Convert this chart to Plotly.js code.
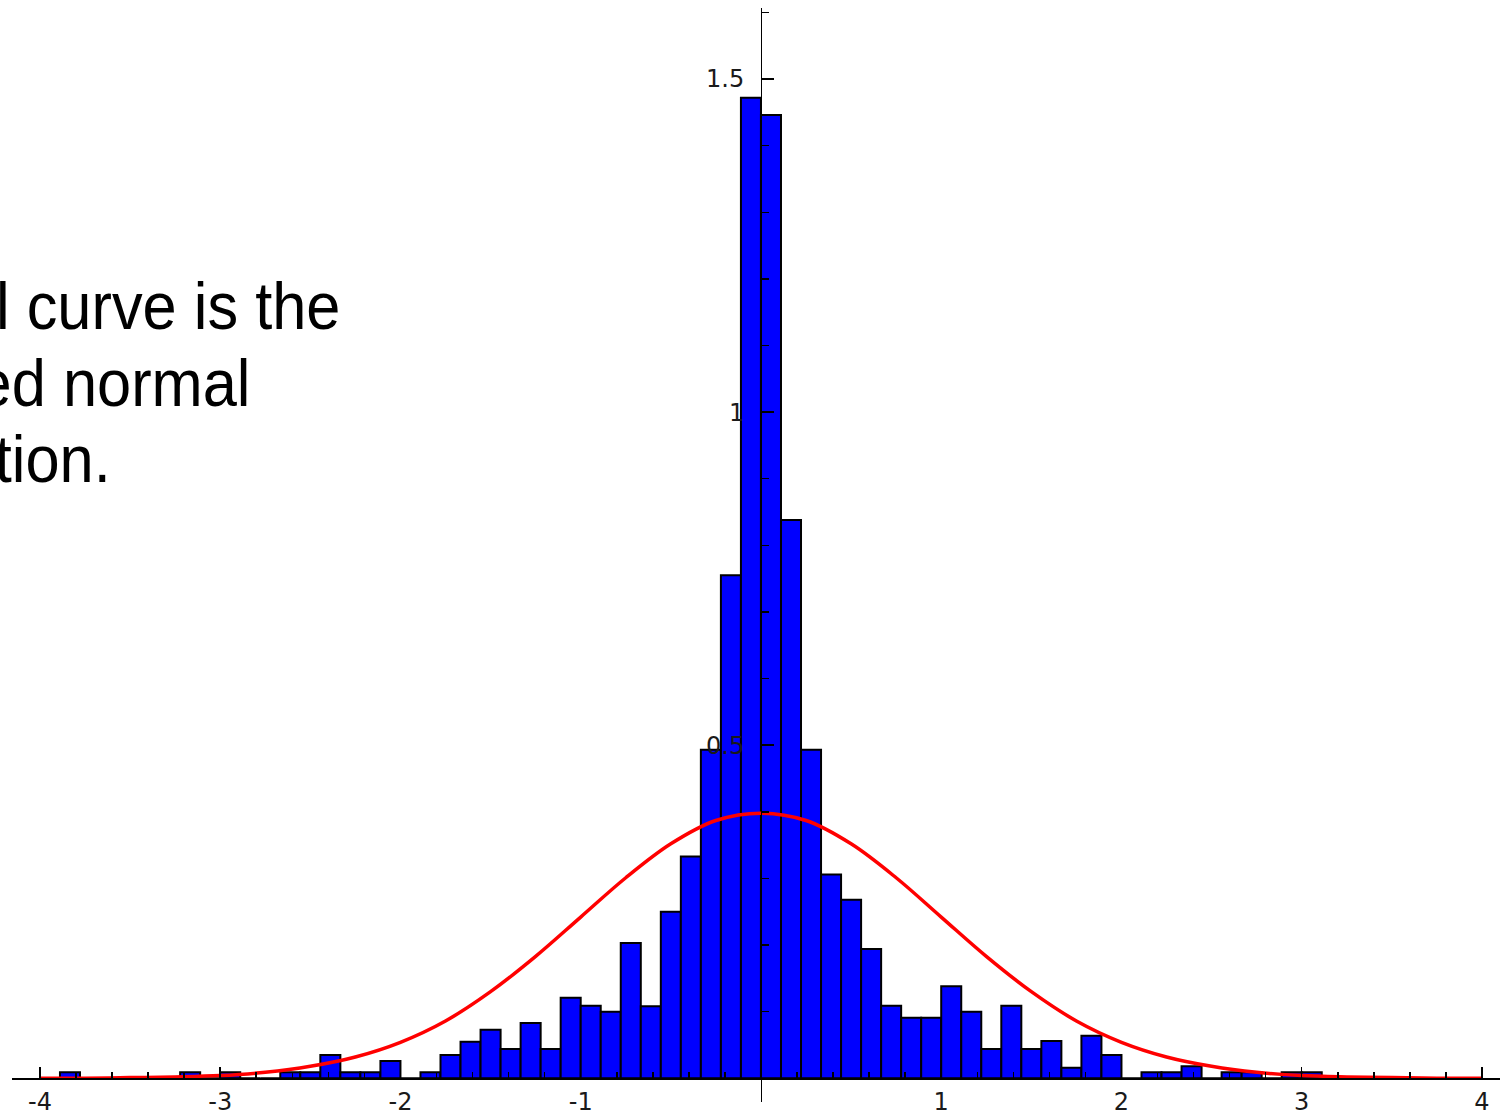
<!DOCTYPE html>
<html>
<head>
<meta charset="utf-8">
<script src="https://cdn.plot.ly/plotly-3.0.1.min.js"></script>
<style>
  html, body { margin: 0; padding: 0; background: #ffffff; }
  #chart { width: 1501px; height: 1113px; }
</style>
</head>
<body>
<div id="chart"></div>
<script>
// Histogram of standardized values (density scale) with the fitted normal curve.

// Bins: 72 bins of width 1/9 covering [-4, 4)
const binStart = -4;
const binWidth = 1 / 9;
const binDensity = [
  0.000, 0.009, 0.000, 0.000, 0.000, 0.000, 0.000, 0.009, 0.000, 0.009,
  0.000, 0.000, 0.009, 0.009, 0.035, 0.009, 0.009, 0.026, 0.000, 0.009,
  0.035, 0.055, 0.073, 0.044, 0.083, 0.044, 0.121, 0.109, 0.100, 0.203,
  0.108, 0.250, 0.333, 0.493, 0.755, 1.472, 1.446, 0.838, 0.493, 0.306,
  0.268, 0.194, 0.109, 0.091, 0.091, 0.138, 0.100, 0.044, 0.109, 0.044,
  0.056, 0.016, 0.064, 0.035, 0.000, 0.009, 0.009, 0.018, 0.000, 0.009,
  0.009, 0.000, 0.009, 0.009, 0.000, 0.000, 0.000, 0.000, 0.000, 0.000,
  0.000, 0.000
];

// Fitted normal density, read at steps of 0.25
const curveX = [
  -4, -3.75, -3.5, -3.25, -3, -2.75, -2.5, -2.25, -2, -1.75, -1.5, -1.25, -1,
  -0.75, -0.5, -0.25, 0, 0.25, 0.5, 0.75, 1, 1.25, 1.5, 1.75, 2, 2.25, 2.5,
  2.75, 3, 3.25, 3.5, 3.75, 4
];
const curveY = [
  0.000, 0.000, 0.001, 0.002, 0.004, 0.009, 0.018, 0.032, 0.054, 0.086, 0.130,
  0.183, 0.242, 0.301, 0.352, 0.387, 0.398, 0.387, 0.352, 0.301, 0.242, 0.183,
  0.130, 0.086, 0.054, 0.032, 0.018, 0.009, 0.004, 0.002, 0.001, 0.000, 0.000
];

// Axis ticks
const xTickVals = [-4, -3, -2, -1, 0, 1, 2, 3, 4];
const xTickText = ['-4', '-3', '-2', '-1', '', '1', '2', '3', '4'];
const yTickVals = [0, 0.5, 1, 1.5];
const yTickText = ['', '0.5', '1', '1.5'];

// Caption text lines
const captionLines = ['l curve is the', 'ed normal', 'tion.'];

const binCenters = binDensity.map((_, i) => binStart + (i + 0.5) * binWidth);

const W = 1501, H = 1113;
const M = { l: 12, r: 1, t: 8, b: 11 };
const plotW = W - M.l - M.r;
const plotH = H - M.t - M.b;
const xRange = [-4.155, 4.1];
const yRange = [-0.0356, 1.6066];

// Axes cross at the origin
const xAxisPos = (0 - yRange[0]) / (yRange[1] - yRange[0]);
const yAxisPos = (0 - xRange[0]) / (xRange[1] - xRange[0]);

const tickFont = { family: 'DejaVu Sans, sans-serif', size: 24, color: '#1a1a1a' };

const bars = {
  type: 'bar',
  x: binCenters,
  y: binDensity,
  width: binWidth,
  marker: { color: '#0000ff', line: { color: '#000000', width: 2 } },
  hoverinfo: 'skip'
};

const curve = {
  type: 'scatter',
  mode: 'lines',
  x: curveX,
  y: curveY,
  line: { color: '#ff0000', width: 3.5, shape: 'spline', smoothing: 1 },
  hoverinfo: 'skip'
};

// Caption placement in pixels: right edge and vertical centre of each line
const capFont = 66;
const capRight = [341, 252, 112];
const capMid = [305.6, 383.1, 459.1];
const annotations = captionLines.map((txt, i) => ({
  text: txt,
  xref: 'paper', yref: 'paper',
  x: (capRight[i] - M.l) / plotW,
  y: 1 - (capMid[i] - M.t) / plotH,
  xanchor: 'right', yanchor: 'middle',
  showarrow: false,
  borderpad: 0,
  align: 'right',
  font: { family: 'Liberation Sans, Arial, sans-serif', size: capFont, color: '#000000' }
}));

const layout = {
  width: W, height: H,
  margin: M,
  paper_bgcolor: '#ffffff',
  plot_bgcolor: '#ffffff',
  showlegend: false,
  bargap: 0,
  xaxis: {
    range: xRange,
    anchor: 'free', position: xAxisPos,
    showgrid: false, zeroline: false,
    showline: true, linecolor: '#000000', linewidth: 1.5,
    tickmode: 'array', tickvals: xTickVals, ticktext: xTickText,
    ticks: 'inside', ticklen: 11, tickwidth: 1.5, tickcolor: '#000000',
    minor: { ticks: 'inside', ticklen: 6, tickwidth: 1.5, tickcolor: '#000000', tick0: 0, dtick: 0.2, showgrid: false },
    tickfont: tickFont,
    ticklabelstandoff: 1,
    automargin: false,
    fixedrange: true
  },
  yaxis: {
    range: yRange,
    anchor: 'free', position: yAxisPos,
    showgrid: false, zeroline: false,
    showline: true, linecolor: '#000000', linewidth: 1.5,
    tickmode: 'array', tickvals: yTickVals, ticktext: yTickText,
    ticks: 'inside', ticklen: 12, tickwidth: 1.5, tickcolor: '#000000',
    minor: { ticks: 'inside', ticklen: 7, tickwidth: 1.5, tickcolor: '#000000', tick0: 0, dtick: 0.1, showgrid: false },
    tickfont: tickFont,
    ticklabelstandoff: 12,
    automargin: false,
    fixedrange: true
  },
  annotations: annotations
};

const gd = document.getElementById('chart');
Plotly.newPlot(gd, [bars, curve], layout, { displayModeBar: false, staticPlot: true }).then(function () {
  // Slightly narrow caption glyphs, anchored at each line's right edge
  const sx = 0.93;
  gd.querySelectorAll('.annotation-text').forEach(function (t) {
    const bb = t.getBBox();
    const xr = bb.x + bb.width;
    const prev = t.getAttribute('transform') || '';
    t.setAttribute('transform',
      prev + ' translate(' + xr + ',0) scale(' + sx + ',1) translate(' + (-xr) + ',0)');
  });
});
</script>
</body>
</html>
